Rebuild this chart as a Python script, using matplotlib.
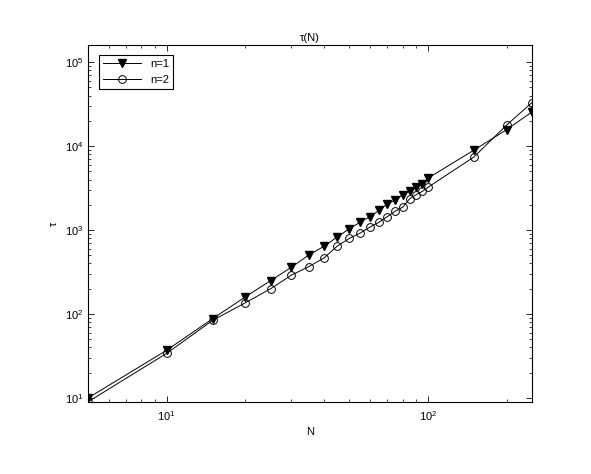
import matplotlib
matplotlib.use("Agg")
import matplotlib.pyplot as plt
from matplotlib.ticker import LogLocator, NullFormatter

N = [5, 10, 15, 20, 25, 30, 35, 40, 45, 50, 55, 60, 65, 70, 75, 80, 85, 90, 95, 100, 150, 200, 250]
tau_n1 = [10, 37, 88, 160, 250, 360, 505, 640, 830, 1035, 1240, 1450, 1710, 2050, 2290, 2620,
          2950, 3250, 3500, 4150, 8950, 15700, 25500]
tau_n2 = [9, 34, 84, 136, 200, 290, 367, 465, 645, 795, 920, 1085, 1240, 1450, 1680, 1870,
          2350, 2630, 2880, 3230, 7420, 17800, 33000]
labels = ["n=1", "n=2"]

plt.rcParams['font.family'] = ['Liberation Sans', 'DejaVu Sans']
plt.rcParams['mathtext.fontset'] = 'custom'
plt.rcParams['mathtext.rm'] = 'Liberation Sans'

fig = plt.figure(figsize=(5.91, 4.74), dpi=100)
ax = fig.add_axes([0.149, 0.152, 0.751, 0.753])

ax.loglog(N, tau_n1, '-v', color='black', lw=0.7, markersize=5.6,
          markerfacecolor='black', markeredgecolor='black', label=labels[0])
ax.loglog(N, tau_n2, '-o', color='black', lw=0.7, markersize=5.6,
          markerfacecolor='none', markeredgecolor='black', markeredgewidth=0.7, label=labels[1])

ax.set_xlim(5, 250)
ax.set_ylim(8.96, 1.6e5)

ax.xaxis.set_major_locator(LogLocator(base=10, numticks=10))
ax.yaxis.set_major_locator(LogLocator(base=10, numticks=10))
ax.xaxis.set_minor_locator(LogLocator(base=10, subs=range(2, 10), numticks=20))
ax.yaxis.set_minor_locator(LogLocator(base=10, subs=range(2, 10), numticks=20))
ax.xaxis.set_minor_formatter(NullFormatter())
ax.yaxis.set_minor_formatter(NullFormatter())

ax.tick_params(which='both', direction='in', top=True, right=True, labelsize=8)
ax.tick_params(axis='x', which='major', pad=5)
ax.tick_params(which='major', length=4, width=0.6)
ax.tick_params(which='minor', length=2.5, width=0.5)
for s in ax.spines.values():
    s.set_linewidth(0.8)

ax.set_title("τ(N)", fontsize=8, pad=3)
ax.set_xlabel("N", fontsize=8, labelpad=3)
ax.set_ylabel("τ", fontsize=8)

leg = ax.legend(loc='upper left', fontsize=8, fancybox=False, framealpha=1,
                edgecolor='black', handlelength=3.4, borderpad=0.4,
                bbox_to_anchor=(0.012, 0.988))
leg.get_frame().set_linewidth(0.8)

fig.savefig("out.png", dpi=100)
